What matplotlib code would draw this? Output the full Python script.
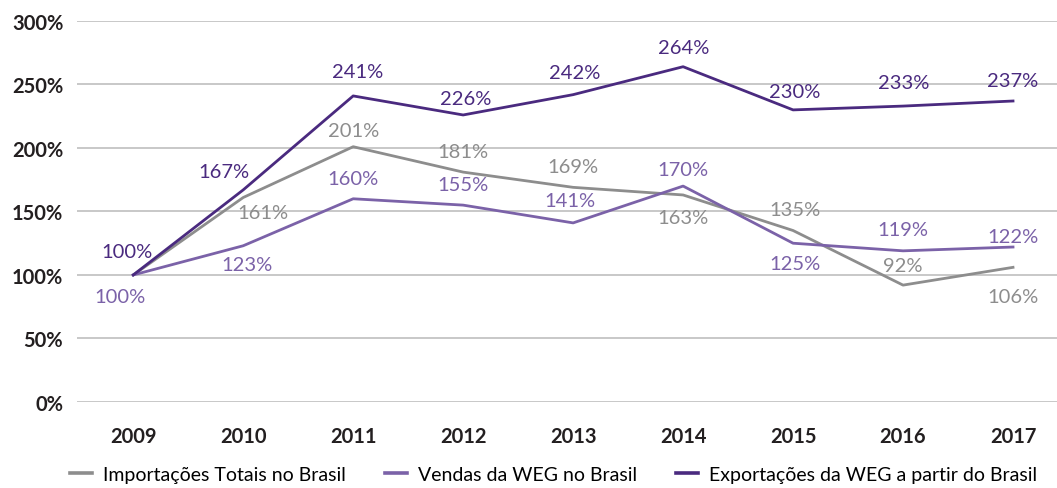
import matplotlib
matplotlib.use('Agg')
import matplotlib.pyplot as plt

plt.rcParams['font.family'] = ['Lato', 'DejaVu Sans']

years = ['2009', '2010', '2011', '2012', '2013', '2014', '2015', '2016', '2017']
importacoes = [100, 161, 201, 181, 169, 163, 135, 92, 106]
vendas = [100, 123, 160, 155, 141, 170, 125, 119, 122]
exportacoes = [100, 167, 241, 226, 242, 264, 230, 233, 237]

# label offsets in pixels (dx, dy) relative to each point
off_imp = [None, (20, -15), (0, 16), (0, 21), (0, 21), (0, -23), (2, 21), (0, 20), (0, -29)]
off_ven = [(-13, -22), (4, -19), (0, 20), (0, 21), (-3, 22), (0, 17), (2, -20), (0, 21), (0, 11)]
off_exp = [(-6, 23), (-19, 18), (4, 24), (3, 16), (2, 22), (1, 19), (2, 18), (1, 24), (0, 21)]

c_imp = '#8d8d8d'
c_ven = '#7b62a8'
c_exp = '#4a2a7f'

fig = plt.figure(figsize=(10.57, 4.89), dpi=100)
ax = fig.add_axes([0.073, 0.176, 0.927, 0.779])

x = list(range(len(years)))
ax.plot(x, importacoes, color=c_imp, lw=2, label='Importações Totais no Brasil')
ax.plot(x, vendas, color=c_ven, lw=2, label='Vendas da WEG no Brasil')
ax.plot(x, exportacoes, color=c_exp, lw=2, label='Exportações da WEG a partir do Brasil')

for vals, offs, col in [(importacoes, off_imp, c_imp), (vendas, off_ven, c_ven), (exportacoes, off_exp, c_exp)]:
    for i, v in enumerate(vals):
        if offs[i] is None:
            continue
        ax.annotate(f'{v}%', (i, v), xytext=offs[i], textcoords='offset pixels',
                    ha='center', va='center', color=col, fontsize=14.5)

ax.set_xlim(-0.51, 8.4)
ax.set_ylim(0, 300)
ax.set_yticks(range(0, 301, 50))
ax.set_yticklabels([f'{t}%' for t in range(0, 301, 50)])
ax.set_xticks(x)
ax.set_xticklabels(years)
for lab in ax.get_xticklabels() + ax.get_yticklabels():
    lab.set_fontweight('bold')
    lab.set_fontsize(14.5)
    lab.set_color('#231f20')
ax.tick_params(axis='x', length=0, pad=17)
ax.tick_params(axis='y', length=0, pad=10)
ax.grid(axis='y', color='#c4c4c4', lw=1.3)
ax.set_axisbelow(True)
for s in ax.spines.values():
    s.set_visible(False)

leg = fig.legend(loc='center', bbox_to_anchor=(0.524, 0.027), ncol=3, frameon=False,
                 fontsize=14, handlelength=1.1, columnspacing=2.0, handletextpad=0.6)
for h in leg.legend_handles:
    h.set_linewidth(2.6)

fig.savefig('out.png', dpi=100)
